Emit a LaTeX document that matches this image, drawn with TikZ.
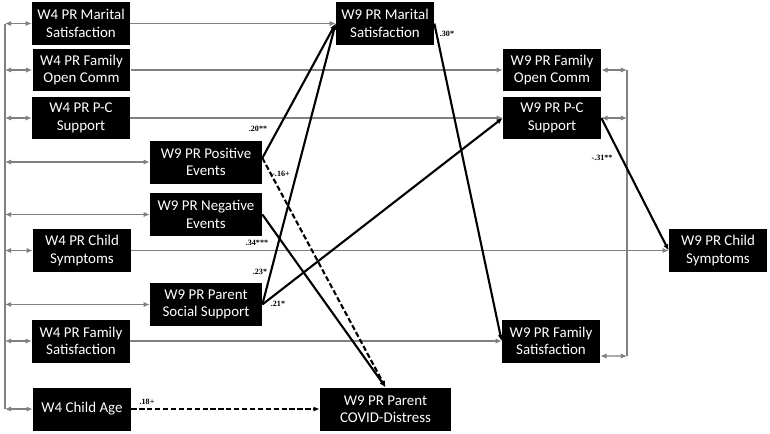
\documentclass[tikz,border=0pt]{standalone}
\usepackage{fontspec}
\setmainfont{Carlito}
\newfontfamily\coeffont{Liberation Serif}
\usetikzlibrary{arrows.meta, positioning}

\tikzset{
  var/.style={fill=black, text=white, align=center, inner sep=0pt,
    minimum width=1.96cm, minimum height=0.86cm, font=\fontsize{8.5}{10}\selectfont},
  widevar/.style={var, minimum width=2.24cm},
  cov/.style={draw=gray, line width=0.6pt,
    {Latex[length=3.5pt,width=3pt]}-{Latex[length=3.5pt,width=3pt]}},
  stab/.style={draw=gray, line width=0.6pt, -{Latex[length=3.5pt,width=3pt]}},
  sig/.style={line width=1.2pt, -{Latex[length=3.5pt,width=3pt]}},
  ns/.style={sig, dash pattern=on 3pt off 1.5pt},
  coef/.style={inner sep=0pt, font=\coeffont\bfseries\fontsize{4.6}{5}\selectfont}
}

\begin{document}
\begin{tikzpicture}[x=0.02cm, y=-0.02cm]
  \useasboundingbox (0,0) rectangle (770,433);

  \node[var] (m4) at (81,23.5) {W4 PR Marital\\Satisfaction};
  \node[var] (oc4) at (81.5,70) {W4 PR Family\\Open Comm};
  \node[var] (pc4) at (81,118) {W4 PR P-C\\Support};
  \node[widevar] (pos9) at (206,162) {W9 PR Positive\\Events};
  \node[widevar] (neg9) at (206,214.5) {W9 PR Negative\\Events};
  \node[var] (cs4) at (82,250.5) {W4 PR Child\\Symptoms};
  \node[widevar] (soc9) at (206,304.5) {W9 PR Parent\\Social Support};
  \node[var] (fs4) at (81,341) {W4 PR Family\\Satisfaction};
  \node[var] (age4) at (82,409) {W4 Child Age};

  \node[var] (m9) at (385,23.5) {W9 PR Marital\\Satisfaction};
  \node[var, minimum width=2.62cm] (covid9) at (385.5,409) {W9 PR Parent\\COVID-Distress};
  \node[var] (oc9) at (552,70) {W9 PR Family\\Open Comm};
  \node[var] (pc9) at (552,118) {W9 PR P-C\\Support};
  \node[var] (fs9) at (551,341) {W9 PR Family\\Satisfaction};
  \node[var] (cs9) at (718,250.5) {W9 PR Child\\Symptoms};

  \coordinate (ltop) at (5,23.5);
  \coordinate (lbot) at (5,409);
  \draw[gray, line width=0.6pt] (ltop) -- (lbot);
  \foreach \n in {m4,oc4,pc4,pos9,neg9,cs4,soc9,fs4,age4}
    \draw[cov] (ltop |- \n.west) -- (\n.west);

  \coordinate (rtop) at (627,70);
  \coordinate (rbot) at (627,356);
  \draw[gray, line width=0.6pt] (rtop) -- (rbot);
  \draw[cov] (oc9.east) -- (rtop |- oc9.east);
  \draw[cov] (pc9.east) -- (rtop |- pc9.east);
  \draw[cov] ([yshift=-0.3cm]fs9.east) -- (rbot);

  \foreach \a/\b in {m4/m9, oc4/oc9, pc4/pc9, cs4/cs9, fs4/fs9}
    \draw[stab] (\a.east) -- (\b.west);

  \draw[sig] ([yshift=0.08cm]pos9.east) -- (m9.west);
  \draw[ns] ([yshift=0.08cm]pos9.east) -- (covid9.north);
  \draw[sig] (neg9.east) -- (covid9.north);
  \draw[sig] (soc9.east) -- (m9.west);
  \draw[sig] (soc9.east) -- (pc9.west);
  \draw[sig] (m9.east) -- (fs9.west);
  \draw[sig] (pc9.east) -- (cs9.west);
  \draw[ns] (age4.east) -- (covid9.west);

  \node[coef] (b1) at (258,129) {.20**};
  \node[coef] (b2) at (281,174) {-.16+};
  \node[coef] (b3) at (257,243) {.34***};
  \node[coef] (b4) at (260,272) {.23*};
  \node[coef] (b5) at (278,304) {.21*};
  \node[coef] (b6) at (447,34) {.30*};
  \node[coef] (b7) at (602,158) {-.31**};
  \node[coef] (b8) at (147,402) {.18+};
\end{tikzpicture}
\end{document}
